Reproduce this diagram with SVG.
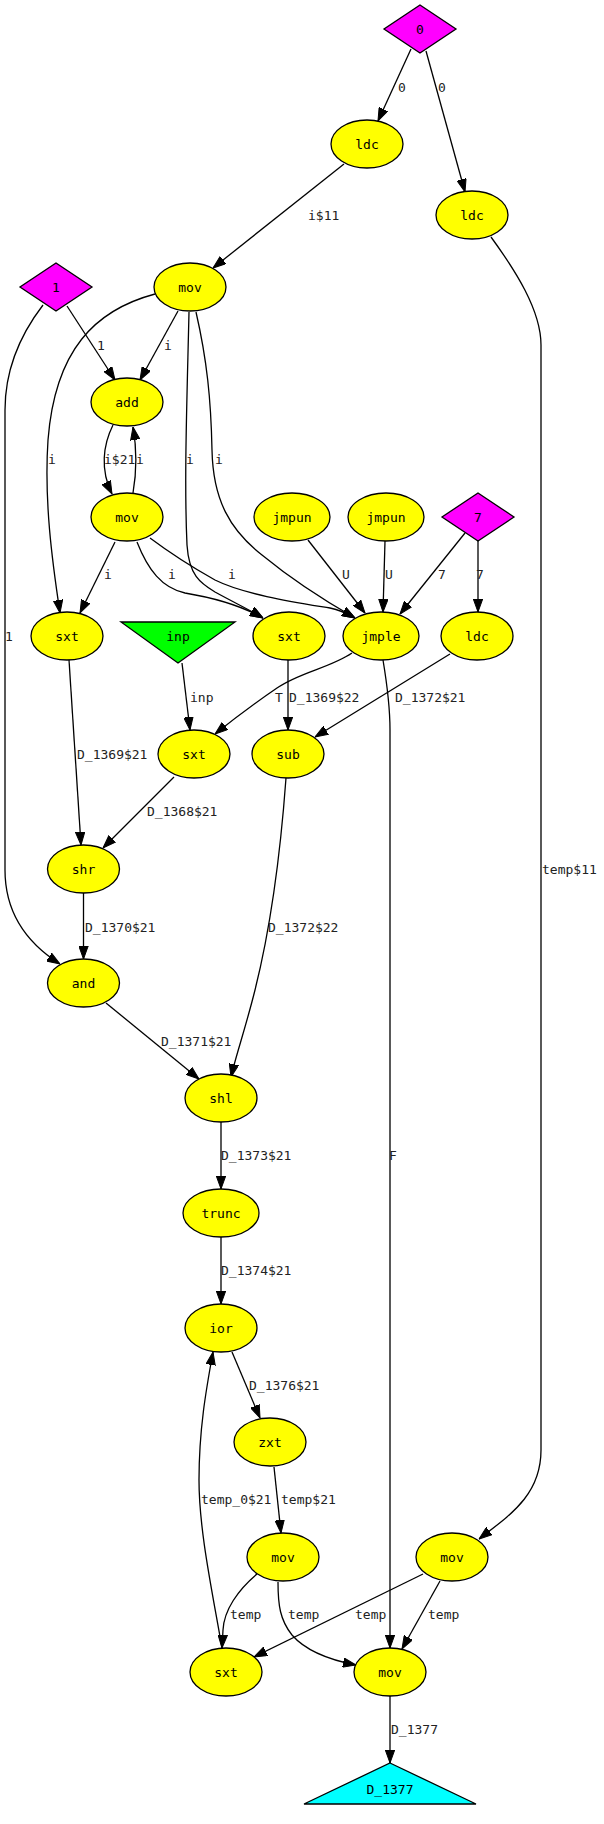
<svg xmlns="http://www.w3.org/2000/svg" width="604" height="1824" viewBox="0 0 604 1824">
<defs>
<style>
.e{fill:none;stroke:#000;stroke-width:1.3;marker-end:url(#ah)}
.el{font-family:"DejaVu Sans Mono","Liberation Mono",monospace;font-size:13px;fill:#222}
.nl{font-family:"DejaVu Sans Mono","Liberation Mono",monospace;font-size:13px;fill:#000;text-anchor:middle}
.y{fill:#ffff00;stroke:#000;stroke-width:1.3}
.m{fill:#ff00ff;stroke:#000;stroke-width:1.3}
.g{fill:#00ff00;stroke:#000;stroke-width:1.3}
.c{fill:#00ffff;stroke:#000;stroke-width:1.3}
</style>
<marker id="ah" viewBox="0 0 13 10" refX="13" refY="5" markerWidth="13" markerHeight="10" orient="auto" markerUnits="userSpaceOnUse">
<path d="M0,0.3 L13,5 L0,9.7 z" fill="#000" stroke="#000" stroke-width="1"/>
</marker>
</defs>
<rect width="604" height="1824" fill="#fff"/>
<g id="connectors">
<path class="e" d="M411,49 L378,121"/>
<path class="e" d="M426,51 L465,192"/>
<path class="e" d="M344,164 L213,268"/>
<path class="e" d="M491,237 C515,270 541,310 541,345 L541,1450 C541,1495 510,1515 479,1539"/>
<path class="e" d="M67,306 L115,380"/>
<path class="e" d="M43,305 C20,335 5,370 5,410 L5,870 C5,915 30,945 60,964"/>
<path class="e" d="M178,311 L140,380"/>
<path class="e" d="M155,294 C95,310 55,350 48,440 C44,500 52,560 60,613"/>
<path class="e" d="M189,312 C187,400 184,480 187,545 C189,575 200,583 215,592 C235,603 250,610 263,618"/>
<path class="e" d="M196,312 C207,360 211,400 212,450 C213,500 230,530 262,555 C290,578 320,598 355,618"/>
<path class="e" d="M113,425 C103,445 100,470 112,494"/>
<path class="e" d="M133,493 C137,470 137,450 133,427"/>
<path class="e" d="M115,542 L80,613"/>
<path class="e" d="M137,542 C148,570 162,588 185,593 C215,598 240,605 263,618"/>
<path class="e" d="M150,538 C170,553 190,566 215,580 C245,595 300,603 330,608 C340,610 348,614 355,618"/>
<path class="e" d="M308,540 L365,613"/>
<path class="e" d="M385,541 L383,612"/>
<path class="e" d="M465,533 L400,614"/>
<path class="e" d="M478,541 L478,612"/>
<path class="e" d="M69,660 L81,845"/>
<path class="e" d="M182,663 L190,730"/>
<path class="e" d="M352,653 C330,668 300,672 277,688 C255,703 235,718 215,734"/>
<path class="e" d="M288,660 L288,730"/>
<path class="e" d="M450,654 L315,737"/>
<path class="e" d="M383,660 C388,690 390,710 390,730 L390,1648"/>
<path class="e" d="M174,777 L103,848"/>
<path class="e" d="M286,778 C280,860 270,930 255,990 C245,1030 236,1055 231,1077"/>
<path class="e" d="M83.5,893 L83.5,959"/>
<path class="e" d="M106,1003 L199,1079"/>
<path class="e" d="M221,1122 L221,1189"/>
<path class="e" d="M221,1237 L221,1304"/>
<path class="e" d="M232,1352 L260,1418"/>
<path class="e" d="M222,1648 C212,1590 199,1530 199,1480 C199,1430 206,1390 213,1352"/>
<path class="e" d="M274,1467 L281,1533"/>
<path class="e" d="M257,1574 C238,1590 224,1610 223,1630 L222,1648"/>
<path class="e" d="M278,1582 C278,1605 280,1620 292,1635 C305,1650 330,1660 356,1665"/>
<path class="e" d="M423,1574 L254,1657"/>
<path class="e" d="M440,1581 L402,1649"/>
<path class="e" d="M390,1696 L390,1763"/>
<text class="el" x="398" y="92">0</text>
<text class="el" x="438" y="92">0</text>
<text class="el" x="308" y="220">i$11</text>
<text class="el" x="97" y="350">1</text>
<text class="el" x="164" y="350">i</text>
<text class="el" x="48" y="464">i</text>
<text class="el" x="104" y="464">i$21</text>
<text class="el" x="136" y="464">i</text>
<text class="el" x="186" y="464">i</text>
<text class="el" x="215" y="464">i</text>
<text class="el" x="104" y="579">i</text>
<text class="el" x="168" y="579">i</text>
<text class="el" x="228" y="579">i</text>
<text class="el" x="342" y="579">U</text>
<text class="el" x="385" y="579">U</text>
<text class="el" x="438" y="579">7</text>
<text class="el" x="476" y="579">7</text>
<text class="el" x="5" y="641">1</text>
<text class="el" x="190" y="702">inp</text>
<text class="el" x="275" y="702">T</text>
<text class="el" x="289" y="702">D_1369$22</text>
<text class="el" x="395" y="702">D_1372$21</text>
<text class="el" x="77" y="759">D_1369$21</text>
<text class="el" x="147" y="816">D_1368$21</text>
<text class="el" x="542" y="874">temp$11</text>
<text class="el" x="85" y="932">D_1370$21</text>
<text class="el" x="268" y="932">D_1372$22</text>
<text class="el" x="161" y="1046">D_1371$21</text>
<text class="el" x="221" y="1160">D_1373$21</text>
<text class="el" x="389" y="1160">F</text>
<text class="el" x="221" y="1275">D_1374$21</text>
<text class="el" x="249" y="1390">D_1376$21</text>
<text class="el" x="201" y="1504">temp_0$21</text>
<text class="el" x="281" y="1504">temp$21</text>
<text class="el" x="230" y="1619">temp</text>
<text class="el" x="288" y="1619">temp</text>
<text class="el" x="355" y="1619">temp</text>
<text class="el" x="428" y="1619">temp</text>
<text class="el" x="391" y="1734">D_1377</text>
</g>
<g id="n_c0"><polygon class="m" points="420,5 456,29 420,53 384,29"/><text class="nl" x="420" y="33.5">0</text></g>
<g id="n_ldc1"><ellipse class="y" cx="367" cy="144" rx="36" ry="24"/><text class="nl" x="367" y="148.5">ldc</text></g>
<g id="n_ldc2"><ellipse class="y" cx="472" cy="215" rx="36" ry="24"/><text class="nl" x="472" y="219.5">ldc</text></g>
<g id="n_mov1"><ellipse class="y" cx="190" cy="287" rx="36" ry="24"/><text class="nl" x="190" y="291.5">mov</text></g>
<g id="n_c1"><polygon class="m" points="56,263 92,287 56,311 20,287"/><text class="nl" x="56" y="291.5">1</text></g>
<g id="n_add"><ellipse class="y" cx="127" cy="402" rx="36" ry="24"/><text class="nl" x="127" y="406.5">add</text></g>
<g id="n_mov2"><ellipse class="y" cx="127" cy="517" rx="36" ry="24"/><text class="nl" x="127" y="521.5">mov</text></g>
<g id="n_jmpun1"><ellipse class="y" cx="292" cy="517" rx="38" ry="24"/><text class="nl" x="292" y="521.5">jmpun</text></g>
<g id="n_jmpun2"><ellipse class="y" cx="386" cy="517" rx="38" ry="24"/><text class="nl" x="386" y="521.5">jmpun</text></g>
<g id="n_c7"><polygon class="m" points="478,493 514,517 478,541 442,517"/><text class="nl" x="478" y="521.5">7</text></g>
<g id="n_sxt1"><ellipse class="y" cx="67" cy="636" rx="36" ry="24"/><text class="nl" x="67" y="640.5">sxt</text></g>
<g id="n_inp"><polygon class="g" points="121,622 235,622 178,663"/><text class="nl" x="178" y="640.5">inp</text></g>
<g id="n_sxt2"><ellipse class="y" cx="289" cy="636" rx="36" ry="24"/><text class="nl" x="289" y="640.5">sxt</text></g>
<g id="n_jmple"><ellipse class="y" cx="381" cy="636" rx="38" ry="24"/><text class="nl" x="381" y="640.5">jmple</text></g>
<g id="n_ldc3"><ellipse class="y" cx="477" cy="636" rx="36" ry="24"/><text class="nl" x="477" y="640.5">ldc</text></g>
<g id="n_sxt3"><ellipse class="y" cx="194" cy="754" rx="36" ry="24"/><text class="nl" x="194" y="758.5">sxt</text></g>
<g id="n_sub"><ellipse class="y" cx="288" cy="754" rx="36" ry="24"/><text class="nl" x="288" y="758.5">sub</text></g>
<g id="n_shr"><ellipse class="y" cx="83.5" cy="869" rx="36" ry="24"/><text class="nl" x="83.5" y="873.5">shr</text></g>
<g id="n_and"><ellipse class="y" cx="83.5" cy="983" rx="36" ry="24"/><text class="nl" x="83.5" y="987.5">and</text></g>
<g id="n_shl"><ellipse class="y" cx="221" cy="1098" rx="36" ry="24"/><text class="nl" x="221" y="1102.5">shl</text></g>
<g id="n_trunc"><ellipse class="y" cx="221" cy="1213" rx="38" ry="24"/><text class="nl" x="221" y="1217.5">trunc</text></g>
<g id="n_ior"><ellipse class="y" cx="221" cy="1328" rx="36" ry="24"/><text class="nl" x="221" y="1332.5">ior</text></g>
<g id="n_zxt"><ellipse class="y" cx="270" cy="1442" rx="36" ry="24"/><text class="nl" x="270" y="1446.5">zxt</text></g>
<g id="n_mov3"><ellipse class="y" cx="283" cy="1557" rx="36" ry="24"/><text class="nl" x="283" y="1561.5">mov</text></g>
<g id="n_mov4"><ellipse class="y" cx="452" cy="1557" rx="36" ry="24"/><text class="nl" x="452" y="1561.5">mov</text></g>
<g id="n_sxt4"><ellipse class="y" cx="226" cy="1672" rx="36" ry="24"/><text class="nl" x="226" y="1676.5">sxt</text></g>
<g id="n_mov5"><ellipse class="y" cx="390" cy="1672" rx="36" ry="24"/><text class="nl" x="390" y="1676.5">mov</text></g>
<g id="n_D1377"><polygon class="c" points="390,1763 476,1804 304,1804"/><text class="nl" x="390" y="1794">D_1377</text></g>
</svg>
